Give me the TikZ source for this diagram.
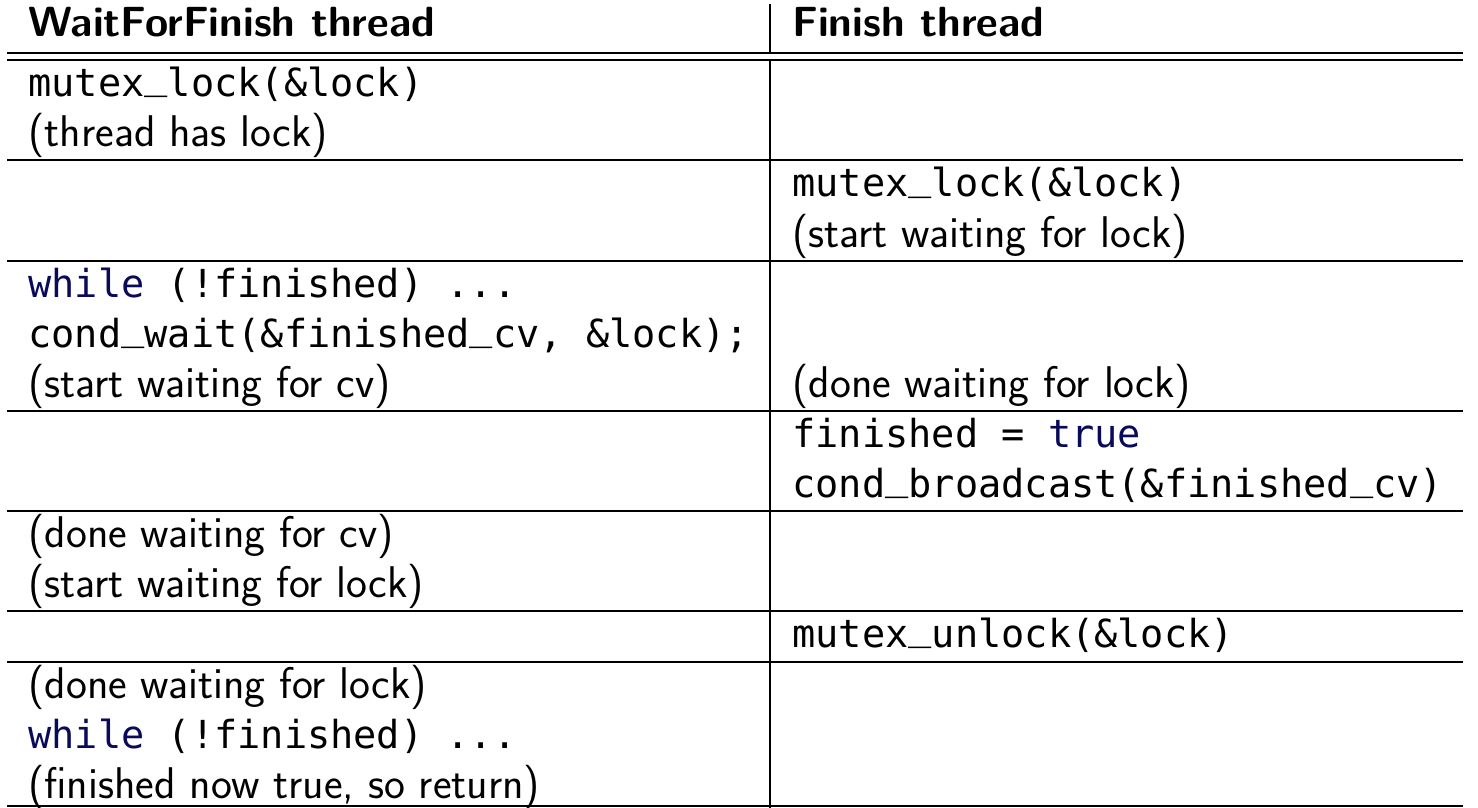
\documentclass[tikz,border=0pt]{standalone}
\usepackage{fontspec}
\setmonofont{DejaVu Sans Mono}
\definecolor{kwblue}{RGB}{10,10,90}
\newcommand{\kw}[1]{\textcolor{kwblue}{#1}}
\newcommand{\us}{\raisebox{0.2em}{\char"5F}}
\tikzset{
  txt/.style={anchor=base west, inner sep=0pt, font=\fontsize{22.2}{25}\selectfont\sffamily},
  code/.style={anchor=base west, inner sep=0pt, font=\fontsize{19.3}{25}\selectfont\ttfamily},
  head/.style={anchor=base west, inner sep=0pt, font=\fontsize{21.1}{25}\selectfont\sffamily\bfseries},
  rulel/.style={line width=1pt}
}
\begin{document}
\begin{tikzpicture}[x=0.5pt, y=-0.5pt, line cap=butt]
	\useasboundingbox (0,0) rectangle (1478,808);
	\def\xl{7} \def\xr{1463} \def\xm{769.5}
	\def\cl{28} \def\cr{792}
	% header
	\node[head] (hwait) at (\cl,37) {WaitForFinish thread};
	\node[head] (hfin) at (\cr,37) {Finish thread};
	% rules
	\draw[rulel] (\xl,53.5)--(\xr,53.5) (\xl,60.5)--(\xr,60.5);
	\foreach \y in {160.5,261,411,511,611,662,806}
		\draw[rulel] (\xl,\y)--(\xr,\y);
	\draw[rulel] (\xm,4)--(\xm,53.5) (\xm,60.5)--(\xm,808);
	% WaitForFinish column
	\node[code] (w1) at (\cl,96.5) {mutex\us lock(\&lock)};
	\node[txt] (w2) at (\cl,146.5) {(thread has lock)};
	\node[code] (w3) at (\cl,297) {\kw{while} (!finished) ...};
	\node[code] (w4) at (\cl,347) {cond\us wait(\&finished\us cv, \&lock);};
	\node[txt] (w5) at (\cl,397) {(start waiting for cv)};
	\node[txt] (w6) at (\cl,547) {(done waiting for cv)};
	\node[txt] (w7) at (\cl,597) {(start waiting for lock)};
	\node[txt] (w8) at (\cl,698) {(done waiting for lock)};
	\node[code] (w9) at (\cl,748) {\kw{while} (!finished) ...};
	\node[txt] (w10) at (\cl,798) {(finished now true, so return)};
	% Finish column
	\node[code] (f1) at (\cr,197) {mutex\us lock(\&lock)};
	\node[txt] (f2) at (\cr,247) {(start waiting for lock)};
	\node[txt] (f3) at (\cr,397) {(done waiting for lock)};
	\node[code] (f4) at (\cr,447) {finished = \kw{true}};
	\node[code] (f5) at (\cr,497) {cond\us broadcast(\&finished\us cv)};
	\node[code] (f6) at (\cr,647) {mutex\us unlock(\&lock)};
\end{tikzpicture}
\end{document}
